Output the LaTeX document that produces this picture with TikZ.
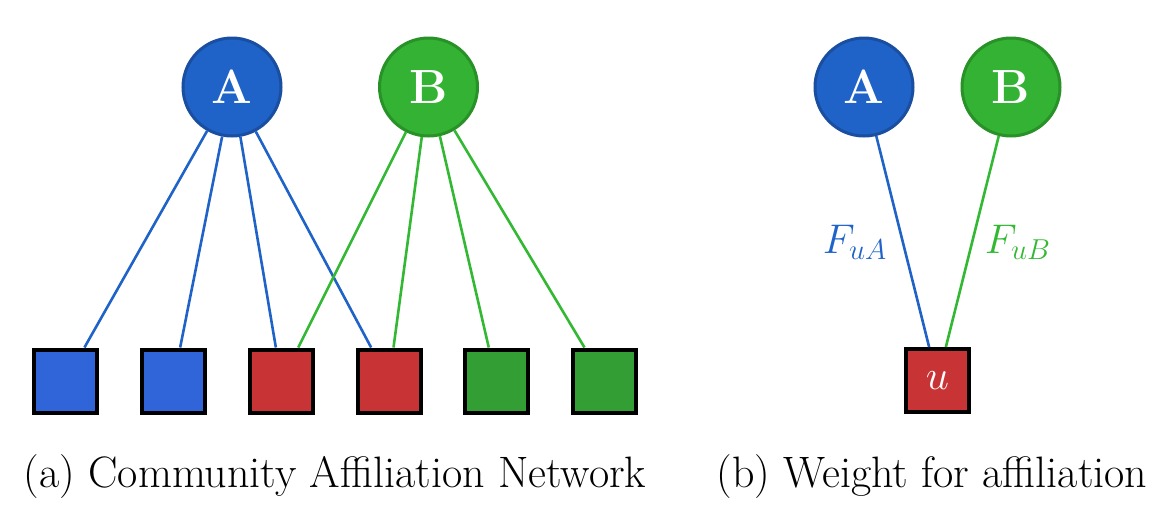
\documentclass[tikz,border=0pt]{standalone}
\begin{document}
\begin{tikzpicture}[x=0.5pt,y=-0.5pt,
  comm/.style={circle,minimum size=49pt,inner sep=0pt,line width=1.5pt,text=white,font=\fontsize{24}{28}\selectfont\bfseries},
  commA/.style={comm,fill=cA,draw=cAd},
  commB/.style={comm,fill=cB,draw=cBd},
  sq/.style={rectangle,minimum size=31.5pt,inner sep=0pt,line width=2pt,draw=black},
  eA/.style={draw=lA,line width=1.3pt},
  eB/.style={draw=lB,line width=1.3pt},
  captext/.style={font=\fontsize{22}{26}\selectfont,anchor=base}]
\definecolor{cA}{RGB}{31,98,200}
\definecolor{cAd}{RGB}{26,78,160}
\definecolor{cB}{RGB}{51,178,51}
\definecolor{cBd}{RGB}{40,145,40}
\definecolor{lA}{RGB}{31,98,200}
\definecolor{lB}{RGB}{51,184,51}
\definecolor{sqB}{RGB}{48,100,217}
\definecolor{sqR}{RGB}{200,51,53}
\definecolor{sqG}{RGB}{51,158,51}
\useasboundingbox (0,0) rectangle (1152,504);
% panel (a)
\node[commA] (A) at (232,87) {A};
\node[commB] (B) at (428.5,87) {B};
\node[sq,fill=sqB] (s1) at (65.5,381) {};
\node[sq,fill=sqB] (s2) at (173.5,381) {};
\node[sq,fill=sqR] (s3) at (281.5,381) {};
\node[sq,fill=sqR] (s4) at (389,381) {};
\node[sq,fill=sqG] (s5) at (496.5,381) {};
\node[sq,fill=sqG] (s6) at (604.5,381) {};
\foreach \s in {s1,s2,s3,s4} \draw[eA] (A) -- (\s);
\foreach \s in {s3,s4,s5,s6} \draw[eB] (B) -- (\s);
\node[captext] (capa) at (335,487) {(a) Community Affiliation Network};
% panel (b)
\node[commA] (A2) at (864,87) {A};
\node[commB] (B2) at (1011,87) {B};
\node[sq,fill=sqR,text=white,font=\fontsize{20}{24}\selectfont] (u) at (937.5,380.5) {$u$};
\draw[eA] (A2) -- (u);
\draw[eB] (B2) -- (u);
\node[text=lA,font=\fontsize{20}{24}\selectfont] (fa) at (855,242) {$F_{uA}$};
\node[text=lB,font=\fontsize{20}{24}\selectfont] (fb) at (1018,242) {$F_{uB}$};
\node[captext] (capb) at (932,487) {(b) Weight for affiliation};
\end{tikzpicture}
\end{document}
